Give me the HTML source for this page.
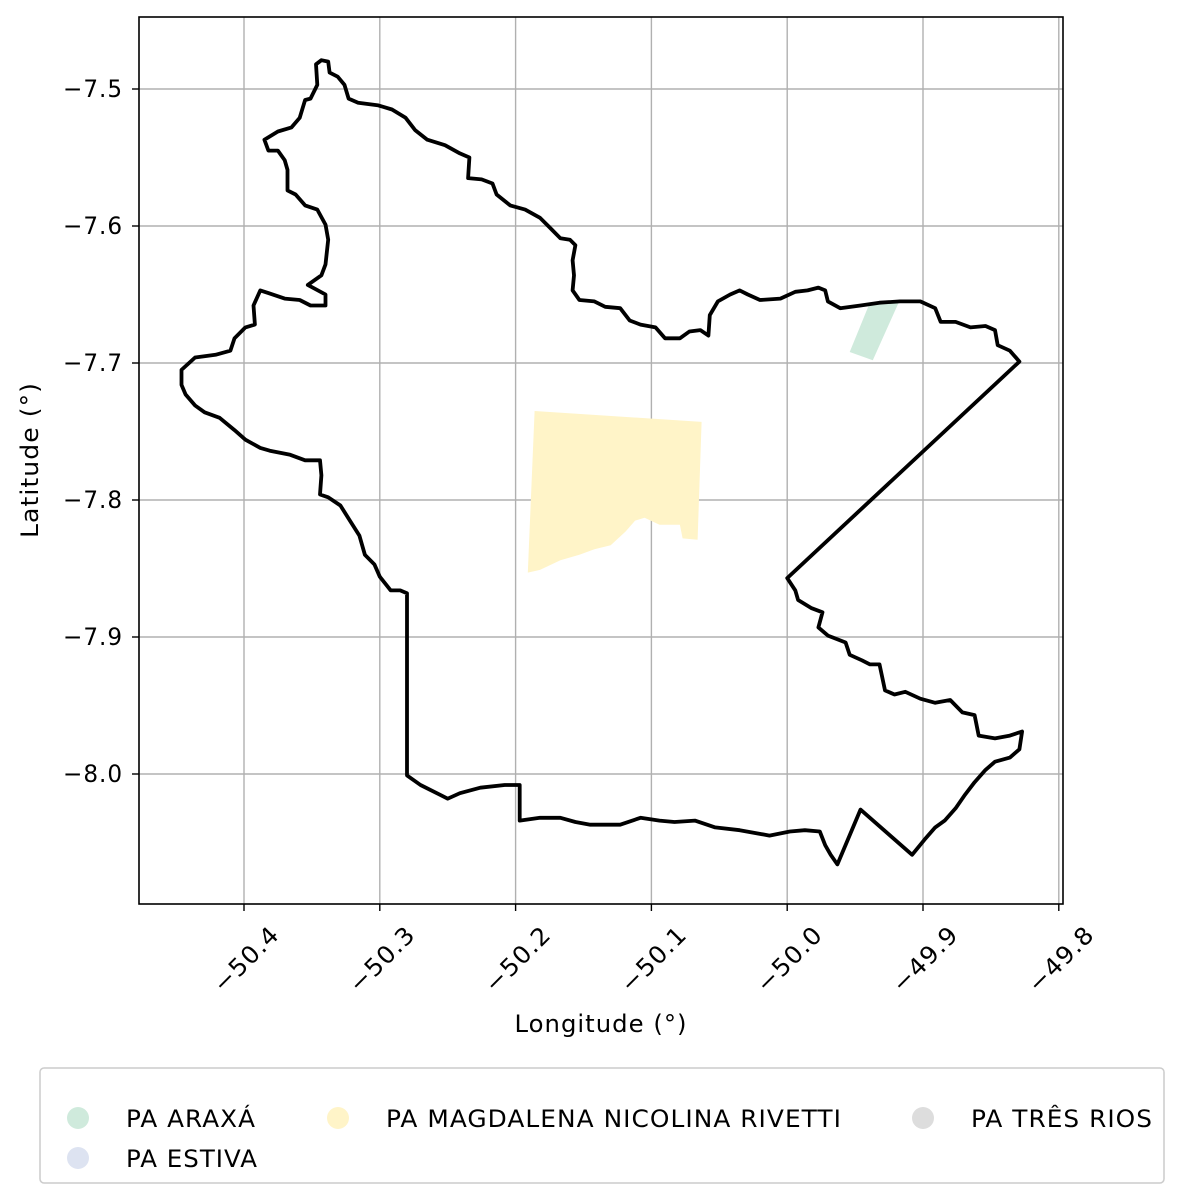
<!DOCTYPE html>
<html><head><meta charset="utf-8"><style>
body{margin:0;background:#fff}
svg{display:block;font-family:"DejaVu Sans","Liberation Sans",sans-serif}
text{letter-spacing:1px}
</style></head><body>
<svg id="chart" width="1183" height="1202" viewBox="0 0 1183 1202" xmlns="http://www.w3.org/2000/svg">
<rect width="1183" height="1202" fill="#fff"/>
<g id="grid"></g>
<g id="fills"></g>
<g id="outline"></g>
<rect x="139" y="17" width="924" height="887" fill="none" stroke="#000" stroke-width="1.6"/>
<g id="ticks"></g>
<text x="601" y="1032" font-size="24" text-anchor="middle" textLength="173" lengthAdjust="spacingAndGlyphs">Longitude (°)</text>
<text transform="translate(38,460) rotate(-90)" font-size="24" text-anchor="middle" textLength="156" lengthAdjust="spacingAndGlyphs">Latitude (°)</text>
<g>
<rect x="40" y="1068" width="1124" height="115" rx="4" fill="#fff" stroke="#ccc" stroke-width="1.5"/>
<g><circle cx="78" cy="1118" r="11" fill="#cfeadc"/><text x="126" y="1127" font-size="24" textLength="130" lengthAdjust="spacingAndGlyphs">PA ARAXÁ</text></g>
<g><circle cx="78" cy="1158" r="11" fill="#dde3f1"/><text x="126" y="1167" font-size="24" textLength="132" lengthAdjust="spacingAndGlyphs">PA ESTIVA</text></g>
<g><circle cx="338" cy="1118" r="11" fill="#fff4c8"/><text x="386" y="1127" font-size="24" textLength="456" lengthAdjust="spacingAndGlyphs">PA MAGDALENA NICOLINA RIVETTI</text></g>
<g><circle cx="923" cy="1118" r="11" fill="#dddddd"/><text x="971" y="1127" font-size="24" textLength="182" lengthAdjust="spacingAndGlyphs">PA TRÊS RIOS</text></g>
</g>
</svg>
<script>
const xTicks=[-50.4,-50.3,-50.2,-50.1,-50.0,-49.9,-49.8];
const xTickLabels=["−50.4","−50.3","−50.2","−50.1","−50.0","−49.9","−49.8"];
const yTicks=[-7.5,-7.6,-7.7,-7.8,-7.9,-8.0];
const yTickLabels=["−7.5","−7.6","−7.7","−7.8","−7.9","−8.0"];
const boundaryLon=[-50.347,-50.343,-50.338,-50.337,-50.331,-50.326,-50.323,-50.316,-50.301,-50.291,-50.281,-50.274,-50.265,-50.252,-50.241,-50.234,-50.235,-50.225,-50.217,-50.214,-50.204,-50.193,-50.182,-50.175,-50.167,-50.160,-50.156,-50.158,-50.157,-50.158,-50.153,-50.142,-50.134,-50.123,-50.116,-50.108,-50.097,-50.090,-50.079,-50.072,-50.064,-50.058,-50.057,-50.051,-50.042,-50.035,-50.029,-50.020,-50.005,-49.994,-49.985,-49.977,-49.972,-49.970,-49.961,-49.946,-49.932,-49.917,-49.902,-49.891,-49.887,-49.876,-49.865,-49.854,-49.847,-49.845,-49.836,-49.829,-50.000,-49.994,-49.992,-49.982,-49.974,-49.977,-49.970,-49.957,-49.954,-49.945,-49.939,-49.932,-49.928,-49.921,-49.913,-49.902,-49.891,-49.880,-49.871,-49.862,-49.859,-49.847,-49.836,-49.827,-49.829,-49.836,-49.847,-49.854,-49.862,-49.869,-49.876,-49.884,-49.891,-49.899,-49.908,-49.946,-49.963,-49.968,-49.972,-49.976,-49.987,-49.998,-50.013,-50.035,-50.053,-50.068,-50.083,-50.094,-50.108,-50.123,-50.134,-50.145,-50.156,-50.167,-50.182,-50.197,-50.197,-50.208,-50.226,-50.241,-50.250,-50.256,-50.270,-50.280,-50.280,-50.285,-50.292,-50.300,-50.304,-50.311,-50.315,-50.322,-50.329,-50.338,-50.344,-50.343,-50.344,-50.355,-50.366,-50.381,-50.388,-50.399,-50.407,-50.418,-50.429,-50.436,-50.443,-50.446,-50.446,-50.436,-50.421,-50.410,-50.407,-50.399,-50.392,-50.393,-50.388,-50.382,-50.370,-50.359,-50.351,-50.340,-50.340,-50.353,-50.343,-50.340,-50.338,-50.340,-50.346,-50.355,-50.362,-50.368,-50.368,-50.370,-50.375,-50.382,-50.385,-50.375,-50.365,-50.359,-50.355,-50.351,-50.346,-50.347];
const boundaryLat=[-7.482,-7.479,-7.480,-7.488,-7.491,-7.497,-7.507,-7.510,-7.512,-7.515,-7.521,-7.530,-7.537,-7.541,-7.547,-7.550,-7.565,-7.566,-7.569,-7.577,-7.585,-7.588,-7.594,-7.601,-7.609,-7.610,-7.614,-7.625,-7.636,-7.647,-7.654,-7.655,-7.659,-7.660,-7.669,-7.672,-7.674,-7.682,-7.682,-7.677,-7.676,-7.680,-7.665,-7.655,-7.650,-7.647,-7.650,-7.654,-7.653,-7.648,-7.647,-7.645,-7.647,-7.655,-7.660,-7.658,-7.656,-7.655,-7.655,-7.660,-7.670,-7.670,-7.674,-7.673,-7.676,-7.687,-7.691,-7.699,-7.857,-7.866,-7.873,-7.879,-7.882,-7.893,-7.899,-7.904,-7.913,-7.917,-7.920,-7.920,-7.939,-7.942,-7.940,-7.945,-7.948,-7.946,-7.955,-7.957,-7.972,-7.974,-7.972,-7.969,-7.982,-7.988,-7.991,-7.997,-8.006,-8.015,-8.025,-8.034,-8.039,-8.048,-8.059,-8.026,-8.066,-8.059,-8.052,-8.042,-8.041,-8.042,-8.045,-8.041,-8.039,-8.034,-8.035,-8.034,-8.032,-8.037,-8.037,-8.037,-8.035,-8.032,-8.032,-8.034,-8.008,-8.008,-8.010,-8.014,-8.018,-8.015,-8.008,-8.001,-7.868,-7.866,-7.866,-7.856,-7.847,-7.840,-7.826,-7.815,-7.804,-7.798,-7.796,-7.782,-7.771,-7.771,-7.767,-7.764,-7.762,-7.756,-7.749,-7.740,-7.736,-7.731,-7.723,-7.716,-7.705,-7.696,-7.694,-7.691,-7.682,-7.674,-7.672,-7.658,-7.647,-7.649,-7.653,-7.654,-7.658,-7.658,-7.650,-7.643,-7.636,-7.628,-7.610,-7.599,-7.588,-7.585,-7.577,-7.574,-7.559,-7.552,-7.545,-7.545,-7.537,-7.531,-7.528,-7.521,-7.508,-7.507,-7.497,-7.482];
const araxaLon=[-49.954,-49.937,-49.918,-49.940];
const araxaLat=[-7.692,-7.698,-7.656,-7.658];
const magdalenaLon=[-50.186,-50.063,-50.066,-50.077,-50.079,-50.094,-50.105,-50.112,-50.119,-50.130,-50.142,-50.153,-50.167,-50.182,-50.191];
const magdalenaLat=[-7.735,-7.743,-7.829,-7.828,-7.818,-7.818,-7.813,-7.815,-7.823,-7.833,-7.836,-7.840,-7.844,-7.851,-7.853];

const NS="http://www.w3.org/2000/svg";
function xs(lon){return 244+(lon+50.4)*1358;}
function ys(lat){return 89+(-7.5-lat)*1370;}
function mk(tag,attrs,parent){const e=document.createElementNS(NS,tag);for(const k in attrs)e.setAttribute(k,attrs[k]);parent.appendChild(e);return e;}
const grid=document.getElementById('grid'),ticks=document.getElementById('ticks');
xTicks.forEach((v,i)=>{
  const x=xs(v);
  const l=mk('line',{x1:x,x2:x,y1:17,y2:904,stroke:'#b0b0b0','stroke-width':1.4},grid);
  
  
  const t=mk('line',{x1:x,x2:x,y1:904,y2:911,stroke:'#000','stroke-width':1.4},ticks);
  
  
  const tx=mk('text',{x:0,y:0,'font-size':24,'text-anchor':'middle','dominant-baseline':'middle',textLength:82,lengthAdjust:'spacingAndGlyphs',transform:`translate(${x+3},${960}) rotate(-45)`},ticks);
  tx.textContent=xTickLabels[i];
  
  
});
yTicks.forEach((v,i)=>{
  const y=ys(v);
  const l=mk('line',{x1:139,x2:1063,y1:y,y2:y,stroke:'#b0b0b0','stroke-width':1.4},grid);
  
  
  const t=mk('line',{x1:132,x2:139,y1:y,y2:y,stroke:'#000','stroke-width':1.4},ticks);
  
  
  const tx=mk('text',{x:123,y:y+8,'font-size':24,'text-anchor':'end',textLength:60,lengthAdjust:'spacingAndGlyphs'},ticks);
  tx.textContent=yTickLabels[i];
  
  
});
function pts(lons,lats){return lons.map((v,i)=>xs(v).toFixed(1)+','+ys(lats[i]).toFixed(1)).join(' ');}
const fills=document.getElementById('fills');
const p1=mk('polygon',{points:pts(magdalenaLon,magdalenaLat),fill:'#fff4c8'},fills);


const p2=mk('polygon',{points:pts(araxaLon,araxaLat),fill:'#cfeadc'},fills);


const ol=mk('polygon',{points:pts(boundaryLon,boundaryLat),fill:'none',stroke:'#000','stroke-width':3.8,'stroke-linejoin':'round'},document.getElementById('outline'));


</script>
</body></html>
